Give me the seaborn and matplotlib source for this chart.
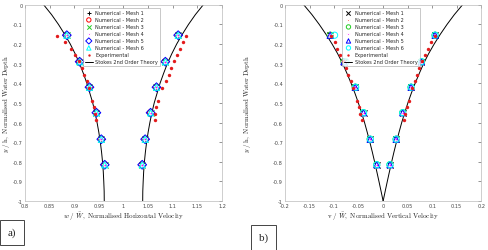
"""Horizontal and vertical velocity profiles: numerical meshes vs experiment vs Stokes theory."""
from matplotlib import pyplot as plt
import numpy as np
import pandas as pd
import seaborn as sns

# depths where the numerical profiles were sampled
depth_num = [-0.155, -0.29, -0.42, -0.55, -0.685, -0.815]

# horizontal velocity, trough (left) and crest (right) branches
horiz_trough = [0.885, 0.911, 0.931, 0.945, 0.955, 0.962]
horiz_crest = [1.111, 1.085, 1.067, 1.055, 1.044, 1.038]
# vertical velocity, negative and positive branches
vert_neg = [-0.108, -0.080, -0.057, -0.040, -0.0265, -0.013]
vert_pos = [0.106, 0.078, 0.057, 0.040, 0.0265, 0.014]
vert_neg_mesh6 = [-0.099, -0.076, -0.056, -0.040, -0.026, -0.013]

# experimental points
depth_exp = [-0.158, -0.192, -0.226, -0.256, -0.288, -0.322, -0.357, -0.390,
             -0.424, -0.489, -0.523, -0.557, -0.587]
exp_h_left = [0.865, 0.881, 0.893, 0.902, 0.910, 0.915, 0.920, 0.925, 0.931,
              0.936, 0.940, 0.942, 0.945]
exp_h_right = [1.127, 1.121, 1.115, 1.108, 1.102, 1.097, 1.092, 1.087, 1.079,
               1.071, 1.067, 1.065, 1.063]
exp_v_left = [-0.106, -0.099, -0.094, -0.088, -0.082, -0.076, -0.071, -0.066,
              -0.061, -0.053, -0.050, -0.047, -0.044]
exp_v_right = [0.106, 0.097, 0.092, 0.086, 0.080, 0.074, 0.069, 0.064, 0.058,
               0.052, 0.048, 0.045, 0.042]

# Stokes 2nd order theory
depth_th = [0, -0.05, -0.1, -0.15, -0.2, -0.25, -0.3, -0.35, -0.4, -0.45, -0.5,
            -0.55, -0.6, -0.65, -0.7, -0.75, -0.8, -0.85, -0.9, -0.95, -1]
th_h_offset = [0.162, 0.146, 0.132, 0.1195, 0.108, 0.098, 0.089, 0.0814, 0.0742,
               0.0683, 0.0624, 0.0577, 0.0536, 0.050, 0.047, 0.0445, 0.0425,
               0.041, 0.040, 0.0392, 0.039]
th_v = [0.162, 0.1453, 0.1304, 0.1167, 0.1041, 0.0926, 0.0825, 0.0737, 0.0653,
        0.0576, 0.0505, 0.044, 0.0379, 0.0324, 0.0271, 0.0221, 0.0174, 0.0129,
        0.0085, 0.0042, 0.0]

mesh_labels = ['Numerical - Mesh %d' % i for i in range(1, 7)]
mesh_style_a = [('+', 'black', True), ('o', 'red', False), ('x', '#22cc22', True),
                ('*', 'magenta', True), ('D', 'blue', False), ('^', 'cyan', False)]
mesh_style_b = [('x', 'black', True), ('*', '#ff4444', True), ('o', '#22cc22', False),
                ('*', 'magenta', True), ('^', 'blue', False), ('o', 'cyan', False)]

LBL = dict(fontsize=5, color='#222222')


def draw_panel(ax, styles, left_list, right, exp_l, exp_r, th_l, th_r):
    for i, (lab, (mk, col, filled)) in enumerate(zip(mesh_labels, styles)):
        df = pd.DataFrame({'x': list(left_list[i]) + list(right),
                           'y': depth_num + depth_num})
        if filled:
            sns.scatterplot(data=df, x='x', y='y', ax=ax, marker=mk, color=col,
                            s=20, linewidth=0.7, label=lab, zorder=3)
        else:
            sns.scatterplot(data=df, x='x', y='y', ax=ax, marker=mk,
                            facecolor='none', edgecolor=col, s=20,
                            linewidth=0.7, label=lab, zorder=3)
    dfe = pd.DataFrame({'x': exp_l + exp_r, 'y': depth_exp + depth_exp})
    sns.scatterplot(data=dfe, x='x', y='y', ax=ax, color='#e31a1c', s=6,
                    linewidth=0, label='Experimental', zorder=4)
    sns.lineplot(x=th_l, y=depth_th, ax=ax, color='black', lw=0.7,
                 sort=False, estimator=None, label='Stokes 2nd Order Theory', zorder=2)
    sns.lineplot(x=th_r, y=depth_th, ax=ax, color='black', lw=0.7,
                 sort=False, estimator=None, zorder=2)

    ax.set_ylim(-1, 0)
    ax.set_yticks(np.arange(-1, 0.01, 0.1))
    ax.set_yticklabels(['-1', '-0.9', '-0.8', '-0.7', '-0.6', '-0.5', '-0.4',
                        '-0.3', '-0.2', '-0.1', '0'])
    ax.tick_params(direction='in', length=2, width=0.4, labelsize=3.6,
                   colors='#444444', top=True, right=True, pad=1.5)
    for sp in ax.spines.values():
        sp.set_color('#bbbbbb')
        sp.set_linewidth(0.5)
    ax.set_ylabel(r'$y\ /\ \mathrm{h},\ \mathrm{Normalised\ Water\ Depth}$', **LBL)
    leg = ax.legend(loc='upper center', bbox_to_anchor=(0.49, 0.995),
                    fontsize=3.6, frameon=True, fancybox=False, borderpad=0.4,
                    handlelength=1.6, handletextpad=0.5, labelspacing=0.4,
                    markerscale=0.7)
    leg.get_frame().set_edgecolor('#888888')
    leg.get_frame().set_linewidth(0.4)


def main():
    sns.set_style('white')
    plt.rcParams['mathtext.fontset'] = 'cm'
    fig = plt.figure(figsize=(4.89, 2.51), dpi=100)
    ax_a = fig.add_axes([0.051, 0.195, 0.403, 0.782])
    ax_b = fig.add_axes([0.583, 0.195, 0.401, 0.782])

    th_trough = [1 - v for v in th_h_offset]
    th_crest = [1 + v for v in th_h_offset]
    draw_panel(ax_a, mesh_style_a, [horiz_trough] * 6, horiz_crest,
               exp_h_left, exp_h_right, th_trough, th_crest)
    ax_a.set_xlim(0.8, 1.2)
    ax_a.set_xticks(np.arange(0.8, 1.201, 0.05))
    ax_a.set_xticklabels(['0.8', '0.85', '0.9', '0.95', '1', '1.05', '1.1', '1.15', '1.2'])
    ax_a.set_xlabel(r'$w\ /\ \bar{W},\ \mathrm{Normalised\ Horizontal\ Velocity}$',
                    labelpad=1, **LBL)
    ax_a.yaxis.set_label_coords(-0.068, 0.5)

    th_neg = [-v for v in th_v]
    draw_panel(ax_b, mesh_style_b, [vert_neg] * 5 + [vert_neg_mesh6], vert_pos,
               exp_v_left, exp_v_right, th_neg, th_v)
    ax_b.set_xlim(-0.2, 0.2)
    ax_b.set_xticks(np.arange(-0.2, 0.201, 0.05))
    ax_b.set_xticklabels(['-0.2', '-0.15', '-0.1', '-0.05', '0', '0.05', '0.1', '0.15', '0.2'])
    ax_b.set_xlabel(r'$\mathrm{v}\ /\ \bar{W},\ \mathrm{Normalised\ Vertical\ Velocity}$',
                    labelpad=1, **LBL)
    ax_b.yaxis.set_label_coords(-0.165, 0.5)

    box = dict(boxstyle='square,pad=0.7', facecolor='white', edgecolor='#444444', lw=0.7)
    fig.text(0.016, 0.06, 'a)', fontsize=8, family='Liberation Serif', bbox=box)
    fig.text(0.529, 0.04, 'b)', fontsize=8, family='Liberation Serif', bbox=box)

    fig.savefig('out.png', dpi=100)


if __name__ == '__main__':
    main()
